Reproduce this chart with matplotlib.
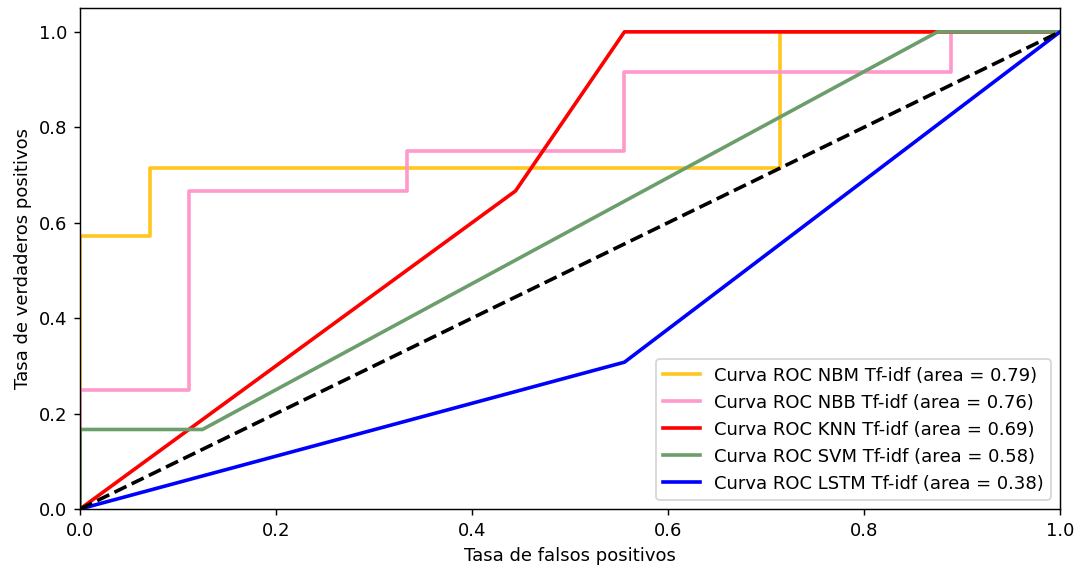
import matplotlib
matplotlib.use("Agg")
import matplotlib.pyplot as plt

# ROC curves (false positive rate, true positive rate) per model
nbm_fpr = [0.0, 0.0, 1/14, 1/14, 5/7, 5/7, 1.0]
nbm_tpr = [0.0, 4/7, 4/7, 5/7, 5/7, 1.0, 1.0]

nbb_fpr = [0.0, 0.0, 1/9, 1/9, 3/9, 3/9, 5/9, 5/9, 8/9, 8/9, 1.0]
nbb_tpr = [0.0, 0.25, 0.25, 8/12, 8/12, 0.75, 0.75, 11/12, 11/12, 1.0, 1.0]

knn_fpr = [0.0, 4/9, 5/9, 1.0]
knn_tpr = [0.0, 2/3, 1.0, 1.0]

svm_fpr = [0.0, 0.0, 0.125, 0.875, 1.0]
svm_tpr = [0.0, 1/6, 1/6, 1.0, 1.0]

lstm_fpr = [0.0, 5/9, 1.0]
lstm_tpr = [0.0, 4/13, 1.0]

labels = ["Curva ROC NBM Tf-idf", "Curva ROC NBB Tf-idf", "Curva ROC KNN Tf-idf",
          "Curva ROC SVM Tf-idf", "Curva ROC LSTM Tf-idf"]
areas = [0.79, 0.76, 0.69, 0.58, 0.38]
colors = ["#FFC61E", "#FF99CC", "#FF0000", "#6B9E6B", "#0000FF"]

curves = [(nbm_fpr, nbm_tpr), (nbb_fpr, nbb_tpr), (knn_fpr, knn_tpr),
          (svm_fpr, svm_tpr), (lstm_fpr, lstm_tpr)]

DPI = 130
fig = plt.figure(figsize=(1086 / DPI, 571 / DPI), dpi=DPI)
ax = fig.add_axes([80/1086, 62/571, 980/1086, 501/571])

for (fpr, tpr), lab, area, col in zip(curves, labels, areas, colors):
    ax.plot(fpr, tpr, color=col, lw=2, label=f"{lab} (area = {area:.2f})")

ax.plot([0, 1], [0, 1], color="black", lw=2, linestyle="--")
ax.set_xlim(0.0, 1.0)
ax.set_ylim(0.0, 1.05)
ax.set_xlabel("Tasa de falsos positivos")
ax.set_ylabel("Tasa de verdaderos positivos")
ax.legend(loc="lower right")

fig.savefig("out.png", dpi=DPI)
